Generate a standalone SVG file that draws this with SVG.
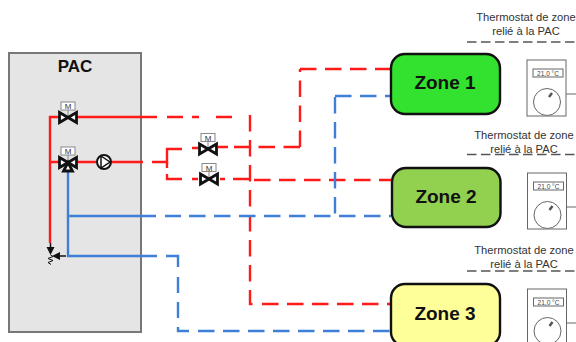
<svg xmlns="http://www.w3.org/2000/svg" width="576" height="342" viewBox="0 0 576 342">
<defs>
<style>
text{font-family:"Liberation Sans",Arial,sans-serif;fill:#111}
.r{fill:none;stroke:#ff1a1a;stroke-width:2.4}
.b{fill:none;stroke:#3f7fd8;stroke-width:2.4}
.d{stroke-dasharray:16.5 8.5}
.z{stroke:#111;stroke-width:2.4}
.zt{font-size:19px;font-weight:bold;text-anchor:middle}
.t{font-size:11.2px;text-anchor:middle;fill:#333}
.g{stroke:#555;stroke-width:1.5;stroke-dasharray:9.5 4.5;fill:none}
.v{fill:#fff;stroke:#111;stroke-width:2.8;stroke-linejoin:miter}
.mb{fill:#fff;stroke:#888;stroke-width:1}
.mt{font-size:8px;text-anchor:middle;fill:#333}
.th{fill:#fff;stroke:#666;stroke-width:1}
.ttx{font-size:6.5px;text-anchor:middle;fill:#444}
</style>
<g id="mv">
<line x1="0" y1="0" x2="0" y2="-8" stroke="#888"/>
<rect class="mb" x="-7" y="-15.5" width="14" height="8"/>
<text class="mt" x="0" y="-8.5">M</text>
<path class="v" d="M-8.5-5V5L8.5-5V5Z"/>
</g>
<g id="therm">
<rect class="th" x="0" y="0" width="39" height="56"/>
<rect class="th" x="6" y="9" width="30" height="8"/>
<text class="ttx" x="21" y="15.5">21,0 °C</text>
<circle class="th" cx="20" cy="42" r="13.5"/>
<path d="M22 37L25 33" stroke="#555" stroke-width="2.5"/>
<line x1="39" y1="34" x2="49" y2="34" stroke="#666"/>
</g>
</defs>

<g id="pac">
<rect x="9" y="53" width="132" height="279" fill="#e5e5e5" stroke="#777" stroke-width="2"/>
<text x="75" y="72" font-size="17" font-weight="bold" text-anchor="middle">PAC</text>
</g>

<g id="connectors">
<path class="r" d="M60 117H50V243"/>
<path class="r" d="M50 162H60M76 162H96M112 162H143M152 162H167V149H182"/>
<path class="r" d="M76 117H157M167 117H183M192 117H199M216 117H232"/>
<path class="r d" d="M250 115V304H254"/>
<path class="r d" d="M262 304H391"/>
<path class="r" d="M192 148H198M218 147H228"/>
<path class="r d" d="M300 147H234"/>
<path class="r d" d="M300 147V69"/>
<path class="r d" d="M300 69H391"/>
<path class="r" d="M167 162V168M167 174V179H182M192 179H198M220 179H225M233 179H250"/>
<path class="r d" d="M254 180H391"/>
<path class="b" d="M68 170V256H157M68 216H156M165 216H181"/>
<path class="b d" d="M189 216H391"/>
<path class="b d" d="M335 97V216"/>
<path class="b d" d="M335 96H391"/>
<path class="b" d="M166 256H178V267M178 277V293M178 302V318M178 327V331H189"/>
<path class="b d" d="M198 331H391"/>
<path d="M50.500 243V249M66 256H58" stroke="#111" stroke-width="1.5"/>
<path d="M46.500 247H54.500L50.500 255Z" fill="#111"/>
<path d="M60 252V260L52 256Z" fill="#111"/>
<path d="M50.500 255L53 256.500L48 258.500L53 260.500L48 262.500L51 264.500" fill="none" stroke="#111"/>
</g>

<g id="valve-1"><use href="#mv" transform="translate(68 117.500)"/></g>
<g id="valve-2">
<use href="#mv" transform="translate(68 162.500)"/>
<path class="v" d="M68 162.500L63.500 171H72.500Z"/>
</g>
<g id="pump">
<circle cx="104" cy="162" r="7" fill="#fff" stroke="#111" stroke-width="2"/>
<path d="M101 156L110 162L101 168Z" fill="#fff" stroke="#111" stroke-width="1.5"/>
</g>
<g id="valve-3"><use href="#mv" transform="translate(208 149)"/></g>
<g id="valve-4"><use href="#mv" transform="translate(209 179)"/></g>

<g id="zone-1">
<rect class="z" x="391" y="54" width="109" height="60" rx="14" fill="#33e22e"/>
<text class="zt" x="445" y="89">Zone 1</text>
</g>
<g id="zone-2">
<rect class="z" x="392" y="168" width="108.500" height="59" rx="14" fill="#92d050"/>
<text class="zt" x="446" y="203">Zone 2</text>
</g>
<g id="zone-3">
<rect class="z" x="391" y="284" width="109" height="62" rx="14" fill="#ffff99"/>
<text class="zt" x="445" y="319.500">Zone 3</text>
</g>

<g id="thermostat-1">
<text class="t" x="526" y="21">Thermostat de zone</text>
<text class="t" x="526" y="35">relié à la PAC</text>
<path class="g" d="M467 42H576"/>
<use href="#therm" transform="translate(527 60)"/>
</g>
<g id="thermostat-2">
<text class="t" x="524" y="139">Thermostat de zone</text>
<text class="t" x="524" y="153">relié à la PAC</text>
<path class="g" d="M467 154.500H576"/>
<use href="#therm" transform="translate(527.500 173)"/>
</g>
<g id="thermostat-3">
<text class="t" x="524" y="254">Thermostat de zone</text>
<text class="t" x="524" y="268">relié à la PAC</text>
<path class="g" d="M467 271H576"/>
<use href="#therm" transform="translate(527.500 289)"/>
</g>
</svg>
